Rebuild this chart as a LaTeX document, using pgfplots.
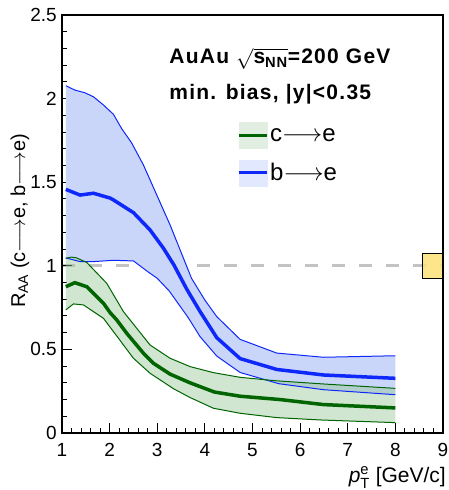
\documentclass[border=0pt]{standalone}
\usepackage{pgfplots}
\pgfplotsset{compat=1.18}
\usepackage{pgfplotstable}
\usepgfplotslibrary{fillbetween}
\usepackage{amsmath}
\usepackage{fontspec}
\setmainfont{Liberation Sans}

\definecolor{bline}{RGB}{15,40,250}
\definecolor{bfill}{RGB}{202,213,250}
\definecolor{bfillL}{RGB}{226,232,253}
\definecolor{gline}{RGB}{0,100,0}
\definecolor{gfill}{RGB}{150,200,150}
\definecolor{gfillL}{RGB}{225,238,225}
\definecolor{boxyel}{RGB}{253,225,120}
\definecolor{dashgray}{RGB}{195,195,195}

% b -> e band: upper edge, central value, lower edge
\pgfplotstableread{
x y
1.08 2.077
1.27 2.051
1.48 2.035
1.66 2.011
1.87 1.962
2.08 1.906
2.25 1.822
2.46 1.736
2.71 1.603
3.02 1.404
3.27 1.244
3.72 0.925
4.00 0.795
4.25 0.696
4.74 0.560
5.51 0.478
6.49 0.453
8.00 0.462
}\bup
\pgfplotstableread{
x y
1.08 1.457
1.38 1.423
1.66 1.434
2.01 1.405
2.08 1.394
2.50 1.318
2.85 1.214
3.13 1.105
3.35 1.005
3.62 0.860
3.90 0.726
4.25 0.570
4.74 0.445
5.51 0.380
6.49 0.347
8.00 0.327
}\bmid
\pgfplotstableread{
x y
1.08 1.047
1.38 1.025
1.66 1.025
2.08 1.033
2.50 1.029
2.80 0.965
3.00 0.925
3.25 0.850
3.65 0.690
3.90 0.576
4.25 0.460
4.74 0.362
5.55 0.295
6.49 0.259
8.00 0.229
}\blow

% c -> e band: upper edge, central value, lower edge
\pgfplotstableread{
x y
1.08 1.045
1.20 1.052
1.30 1.048
1.52 1.020
1.94 0.895
2.29 0.726
2.85 0.526
3.27 0.447
3.69 0.397
4.18 0.361
4.74 0.333
5.51 0.312
6.50 0.293
8.00 0.267
}\gup
\pgfplotstableread{
x y
1.08 0.875
1.27 0.899
1.52 0.875
1.87 0.776
2.01 0.720
2.15 0.676
2.36 0.596
2.71 0.477
2.92 0.417
3.27 0.352
3.69 0.300
4.20 0.245
4.74 0.220
5.58 0.200
6.49 0.170
8.00 0.150
}\gmid
\pgfplotstableread{
x y
1.08 0.736
1.24 0.772
1.45 0.766
1.87 0.686
2.15 0.580
2.50 0.447
2.85 0.357
3.34 0.265
3.69 0.212
4.18 0.148
4.74 0.118
5.51 0.092
6.42 0.078
8.00 0.062
}\glow

\newcommand\titlefont{\bfseries\fontsize{21}{21}\selectfont\addfontfeatures{LetterSpace=6}}

\begin{document}
\begin{tikzpicture}
\begin{axis}[
  at={(62pt,57pt)}, anchor=south west,
  scale only axis, width=381pt, height=418pt,
  xmin=1, xmax=9, ymin=0, ymax=2.5,
  xtick={1,2,...,9}, ytick={0,0.5,...,2.5},
  minor x tick num=4, minor y tick num=4,
  tick align=inside, tick pos=left,
  major tick length=10pt, minor tick length=5pt,
  every tick/.style={black, line width=1pt},
  axis line style={black, line width=1.6pt},
  clip=false, set layers,
  /pgf/number format/assume math mode=true,
  ticklabel style={font=\fontsize{19}{19}\selectfont},
  yticklabel style={inner sep=0pt, xshift=-5pt},
  xticklabel style={inner sep=0pt, yshift=-10pt},
  ylabel={R$_{\text{AA}}$ (c$\longrightarrow$e, b$\longrightarrow$e)},
  ylabel style={at={(axis description cs:-0.097,0.507)}, anchor=base,
    inner sep=0pt, font=\fontsize{20}{20}\selectfont},
  xlabel={$\textit{p}^{\text{e}}_{\text{T}}$ [GeV/c]},
  xlabel style={at={(axis description cs:1,0)}, anchor=base east,
    inner sep=0pt, yshift=-49pt, xshift=3pt, font=\fontsize{21}{21}\selectfont},
  legend style={at={(axis cs:4.675,1.86)}, anchor=north west, draw=none,
    fill=none, inner sep=0pt, row sep=11pt,
    font=\fontsize{24}{24}\selectfont},
  legend cell align=left,
]
% band edges
\addplot[bline, line width=1pt, name path=bu, forget plot] table[x=x,y=y] {\bup};
\addplot[bline, line width=1pt, name path=bl, forget plot] table[x=x,y=y] {\blow};
\addplot[gline, line width=1pt, name path=gu, forget plot] table[x=x,y=y] {\gup};
\addplot[gline, line width=1pt, name path=gl, forget plot] table[x=x,y=y] {\glow};
% band fills
\addplot[bfill, draw=none, on layer=axis background, forget plot] fill between[of=bu and bl];
\addplot[gfill, fill opacity=0.45, draw=none, on layer=axis background, forget plot] fill between[of=gu and gl];
% unity reference and its normalisation uncertainty
\addplot[dashgray, line width=3pt, dash pattern=on 13pt off 14pt, forget plot, on layer=axis background] coordinates {(1,1) (9,1)};
\addplot[fill=boxyel, fill opacity=0.85, draw=black, line width=1pt, forget plot] coordinates {(8.58,0.925) (9,0.925) (9,1.075) (8.58,1.075)} -- cycle;
% central values
\addplot[gline, line width=3.5pt, forget plot] table[x=x,y=y] {\gmid};
\addplot[bline, line width=3.5pt, forget plot] table[x=x,y=y] {\bmid};

\addlegendimage{legend image code/.code={
  \fill[gfillL] (0pt,-13pt) rectangle (28pt,13pt);
  \draw[gline, line width=3pt] (0pt,0pt) -- (28pt,0pt);}}
\addlegendentry{c$\longrightarrow$e}
\addlegendimage{legend image code/.code={
  \fill[bfillL] (0pt,-13pt) rectangle (28pt,13pt);
  \draw[bline, line width=3pt] (0pt,0pt) -- (28pt,0pt);}}
\addlegendentry{b$\longrightarrow$e}

\node[anchor=base west, font=\titlefont, inner sep=0pt]
  at (axis cs:3.25,2.207) {AuAu $\sqrt{\text{s}_{\text{NN}}}$=200 GeV};
\node[anchor=base west, font=\titlefont, inner sep=0pt]
  at (axis cs:3.25,1.992) {min. bias, |y|<0.35};
\end{axis}
\pgfresetboundingbox
\useasboundingbox (0,0) rectangle (448pt,490pt);
\end{tikzpicture}
\end{document}
